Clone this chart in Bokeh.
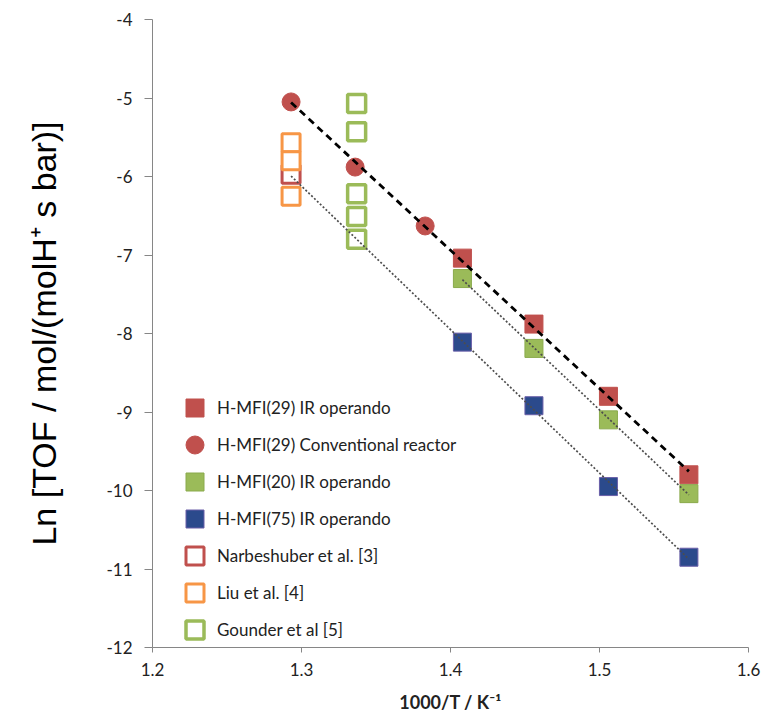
import numpy as np
from bokeh.plotting import figure
from bokeh.models import Range1d, Legend, LegendItem, FixedTicker
from bokeh.embed import file_html
from bokeh.resources import INLINE

# ---- data ----
x_conv = [1.293, 1.336, 1.383]
y_conv = [-5.05, -5.88, -6.63]

x_ir = [1.408, 1.456, 1.506, 1.560]
y_mfi29 = [-7.04, -7.88, -8.80, -9.80]
y_mfi20 = [-7.30, -8.19, -9.10, -10.04]
y_mfi75 = [-8.11, -8.92, -9.95, -10.85]

x_narb = [1.293]
y_narb = [-5.97]
x_liu = [1.293, 1.293, 1.293]
y_liu = [-5.57, -5.80, -6.25]
x_gounder = [1.337, 1.337, 1.337, 1.337, 1.337]
y_gounder = [-5.07, -5.43, -6.22, -6.51, -6.80]

x_ticks = [1.2, 1.3, 1.4, 1.5, 1.6]
y_ticks = [-12, -11, -10, -9, -8, -7, -6, -5, -4]

legend_labels = ["H-MFI(29) IR operando", "H-MFI(29) Conventional reactor",
                 "H-MFI(20) IR operando", "H-MFI(75) IR operando",
                 "Narbeshuber et al. [3]", "Liu et al. [4]", "Gounder et al [5]"]

RED = "#C0504D"
GREEN = "#9BBB59"
BLUE = "#2B4A8C"
BLUE_EDGE = "#6A5FA8"
ORANGE = "#F79646"
AXIS = "#868686"
FONT = "Lato"

p = figure(width=765, height=717, output_backend="svg", toolbar_location=None,
           x_range=Range1d(1.2, 1.6), y_range=Range1d(-12, -4),
           min_border_left=152, min_border_right=17, min_border_top=19,
           min_border_bottom=70)
p.outline_line_color = None
p.grid.grid_line_color = None

for ax in (p.xaxis[0], p.yaxis[0]):
    ax.axis_line_color = AXIS
    ax.major_tick_line_color = AXIS
    ax.minor_tick_line_color = None
    ax.major_tick_in = 0
    ax.major_label_text_font = FONT
    ax.major_label_text_font_size = "17px"
    ax.major_label_text_color = "#222222"

p.yaxis.major_tick_out = 8
p.xaxis.major_tick_out = 5
p.yaxis.major_label_standoff = 12
p.xaxis.major_label_standoff = 10
p.xaxis.ticker = FixedTicker(ticks=x_ticks)
p.yaxis.ticker = FixedTicker(ticks=y_ticks)
p.xaxis.major_label_overrides = {1.2: "1.2", 1.3: "1.3", 1.4: "1.4", 1.5: "1.5", 1.6: "1.6"}
p.yaxis.major_label_overrides = {v: str(v) for v in y_ticks}

p.xaxis.axis_label = "1000/T / K\u207b\u00b9"
p.xaxis.axis_label_text_font = FONT
p.xaxis.axis_label_text_font_style = "bold"
p.xaxis.axis_label_text_font_size = "18px"
p.xaxis.axis_label_text_color = "#222222"
p.xaxis.axis_label_standoff = 12

p.yaxis.axis_label = "Ln [TOF / mol/(molH\u207a s bar)]"
p.yaxis.axis_label_text_font = "Liberation Sans"
p.yaxis.axis_label_text_font_style = "normal"
p.yaxis.axis_label_text_font_size = "34px"
p.yaxis.axis_label_text_color = "#000000"
p.yaxis.axis_label_standoff = 40

S = 18
r29 = p.scatter(x_ir, y_mfi29, marker="square", size=S, fill_color=RED, line_color=RED, line_width=1)
rconv = p.scatter(x_conv, y_conv, marker="circle", size=S, fill_color=RED, line_color=RED, line_width=1)
r20 = p.scatter(x_ir, y_mfi20, marker="square", size=S, fill_color=GREEN, line_color="#8AAA4C", line_width=1)
r75 = p.scatter(x_ir, y_mfi75, marker="square", size=S, fill_color=BLUE, line_color=BLUE_EDGE, line_width=1)
rnarb = p.scatter(x_narb, y_narb, marker="square", size=S, fill_color="white", line_color=RED, line_width=3)
rliu = p.scatter(x_liu, y_liu, marker="square", size=S, fill_color="white", line_color=ORANGE, line_width=3)
rgou = p.scatter(x_gounder, y_gounder, marker="square", size=S, fill_color="white", line_color=GREEN, line_width=3.5)

# trendlines (least-squares fits of the data)
xa = np.array(x_conv + x_ir)
ya = np.array(y_conv + y_mfi29)
k, b = np.polyfit(xa, ya, 1)
xs = np.array([xa.min(), xa.max()])
p.line(xs, k * xs + b, line_color="black", line_width=2.8, line_dash="7 5")

k, b = np.polyfit(np.array(x_ir), np.array(y_mfi20), 1)
xs = np.array([min(x_ir), max(x_ir)])
p.line(xs, k * xs + b, line_color="#4d4d4d", line_width=1.7, line_dash="2 2")

k, b = np.polyfit(np.array(x_ir), np.array(y_mfi75), 1)
xs = np.array([min(x_narb), max(x_ir)])
p.line(xs, k * xs + b, line_color="#4d4d4d", line_width=1.7, line_dash="2 2")

# legend: one single-entry legend per row so rows can sit 37px apart
renderers = [r29, rconv, r20, r75, rnarb, rliu, rgou]
n = len(renderers)
for i, (lab, rend) in enumerate(zip(legend_labels, renderers)):
    lg = Legend(items=[LegendItem(label=lab, renderers=[rend])],
                location=(20, -5 + 37 * (n - 1 - i)), padding=0, margin=0,
                spacing=0, label_height=45, glyph_height=45, glyph_width=45,
                label_standoff=0, label_text_font=FONT, label_text_font_size="17px",
                label_text_color="#222222", border_line_color=None,
                background_fill_alpha=0)
    p.add_layout(lg)

open("out.html", "w").write(file_html(p, INLINE))
